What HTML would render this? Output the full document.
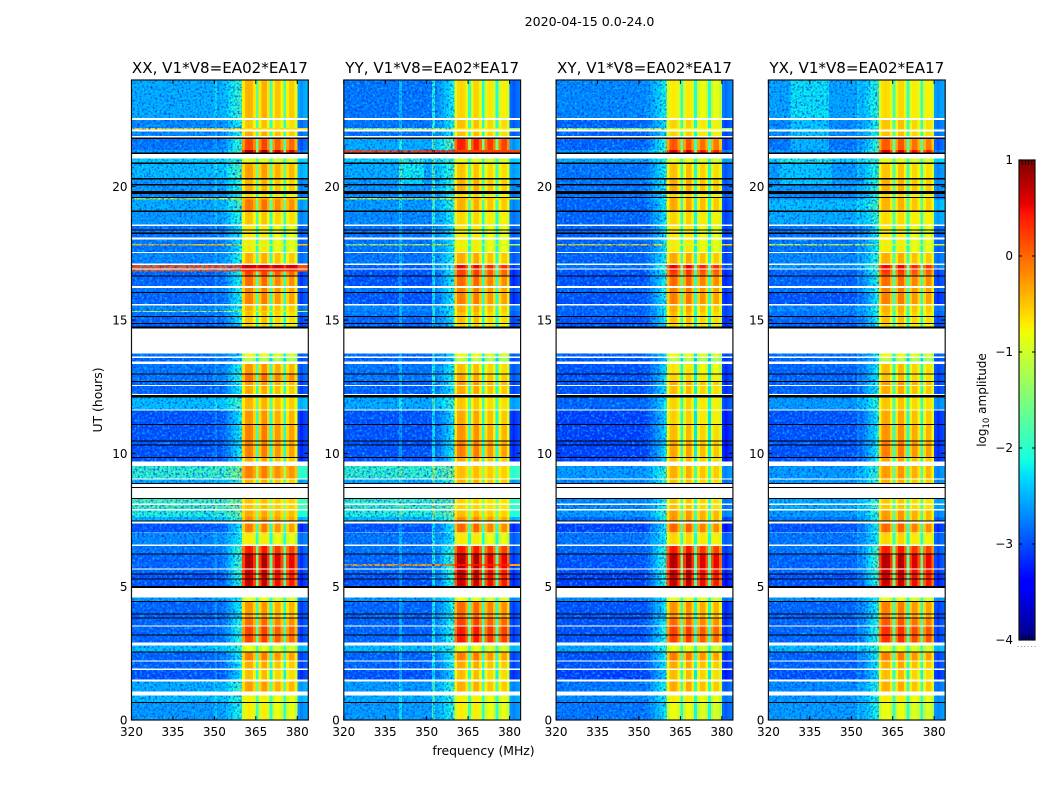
<!DOCTYPE html>
<html>
<head>
<meta charset="utf-8">
<title>2020-04-15 0.0-24.0</title>
<style>
html,body{margin:0;padding:0;background:#fff;}
svg{display:block;}
text{font-family:"DejaVu Sans","Liberation Sans",sans-serif;fill:#000;}
</style>
</head>
<body>
<svg id="chart" xmlns="http://www.w3.org/2000/svg" width="1050" height="800" viewBox="0 0 1050 800">
  <defs>
    <filter id="speckle-dark" x="0" y="0" width="100%" height="100%" color-interpolation-filters="sRGB">
      <feTurbulence type="fractalNoise" baseFrequency="0.45" numOctaves="2" seed="4"/>
      <feColorMatrix type="matrix" values="0 0 0 0 0  0 0 0 0 0.15  0 0 0 0 0.95  2.6 0 0 0 -1.2"/>
    </filter>
    <filter id="speckle-light" x="0" y="0" width="100%" height="100%" color-interpolation-filters="sRGB">
      <feTurbulence type="fractalNoise" baseFrequency="0.4" numOctaves="2" seed="11"/>
      <feColorMatrix type="matrix" values="0 0 0 0 0  0 0 0 0 0.8  0 0 0 0 1  0 2.4 0 0 -1.15"/>
    </filter>
  </defs>
  <text x="589.5" y="26" font-size="12.6" text-anchor="middle">2020-04-15 0.0-24.0</text>
  <g id="panels"></g>
  <text x="483.5" y="755" font-size="12.4" text-anchor="middle">frequency (MHz)</text>
  <text transform="translate(102,400) rotate(-90)" font-size="12.4" text-anchor="middle">UT (hours)</text>
  <g id="colorbar"></g>
  <text transform="translate(986,400) rotate(-90)" font-size="12" text-anchor="middle">log<tspan dy="3" font-size="8.5">10</tspan><tspan dy="-3"> amplitude</tspan></text>
</svg>
<script>
// Panel titles
const panelTitles = ["XX, V1*V8=EA02*EA17", "YY, V1*V8=EA02*EA17", "XY, V1*V8=EA02*EA17", "YX, V1*V8=EA02*EA17"];
// Axis ticks
const utTicks = [0, 5, 10, 15, 20];
const freqTicks = [320, 335, 350, 365, 380];
const colorbarTicks = [1, 0, -1, -2, -3, -4];
const colorbarMinor = [0.2, 0.4, 0.6, 0.8];
// Data rows: start and end, in 135 s integration samples from 0 UT (top of plot = 640)
const rowStart = [640,600,592,588.5,581,570,561.5,556,540.5,534.5,526,522,
520.5,508,494,489.5,486,480.5,476,474.5,467,455,450.5,448.5,
443.5,432,427,414.5,409,408,403,396,366.5,362,356,345.5,
338,334,322.5,309.5,295,278.5,274.5,262,254,240.5,221,215,
209.5,203,196.5,187,174,165.5,156,154,150.5,145.5,140.5,122.5,
118,105.5,101.5,93.5,84.5,74.5,67.5,58.5,50,38.5,24.5,17];
const rowEnd = [602,592,590.5,584,570,567.5,557.5,542,536,529,523,520.5,
509.5,495.5,490.5,487.5,482.5,476,474.5,468,456.5,451.5,448.5,444.5,
434,428,416,409,408,404,397,393.5,363.5,358.5,346.5,339,
335,326,310.5,296,279.5,275.5,263,258.5,241.5,237,216.5,211,
203,199.5,188,175.5,166.5,156,154,151.5,146.5,141.5,134,119,
106.5,102.5,94.5,85.5,77.5,68.5,59.5,51.5,40.5,28.5,18,0];
// Flagged (white) sample ranges
const flaggedStart = [602,590.5,584,566,495.5,482.5,468,456.5,451.5,434,416,391.5,363.5,358.5,335,326,310.5,258.5,241.5,236,232,216.5,211,198.5,175.5,151.5,132,94.5,77.5,59.5,51.5,40.5,28.5];
const flaggedEnd = [600,588.5,582.5,561.5,494,480.5,467,455,450.5,432,414.5,366.5,362,356,334,325,309.5,254,240.5,233,222,215,209.5,196.5,174,150.5,122.5,93.5,74.5,58.5,50,38.5,24.5];
// Zero-amplitude (black) sample ranges
const zeroStart = [582.5,567.5,557.5,542,536,529,523,509.5,490.5,487.5,444.5,428,404,397,393.5,346.5,339,325,296,279.5,275.5,263,237,233,222,199.5,166.5,146.5,141.5,134,119,106.5,102.5,85.5,68.5,18];
const zeroEnd = [581,566,556,540.5,534.5,526,522,508,489.5,486,443.5,427,403,396,391.5,345.5,338,322.5,295,278.5,274.5,262,236,232,221,198.5,165.5,145.5,140.5,132,118,105.5,101.5,84.5,67.5,17];
// Off-band log amplitude per data row
const xxOff = [-2.5,-2.7,-.6,-2.7,-2.8,-2.6,-2.3,-2.4,-2.6,-2.6,-2.7,-1,
-2.5,-2.6,-2.8,-2.8,-2.8,-2.8,-.5,-2.8,-2.7,.15,.1,-2.9,
-2.9,-2.8,-2.9,-2.7,-1,-2.8,-2.9,-2.9,-2.8,-2.9,-2.8,-2.8,
-2.9,-2.9,-2.4,-3,-3,-3,-3,-3,-1.9,-2.5,-1.8,-1.8,
-2,-2.4,-3,-2.7,-2.8,-2.9,-2.9,-2.9,-2.9,-3,-3,-2.6,
-2.9,-2.9,-2.9,-2.9,-2.9,-2.4,-2.9,-2.9,-3,-2.5,-2.4,-2.6];
const yyOff = [-2.8,-2.8,-1.3,-2.8,-2.5,.2,-2.3,-2.5,-2.6,-2.6,-2.7,-1.2,
-2.6,-2.7,-2.8,-2.8,-2.8,-2.8,-1.2,-2.8,-2.8,-2.9,-3,-3,
-3,-2.8,-3,-2.7,-2.8,-2.8,-2.9,-2.9,-2.8,-2.9,-2.8,-2.8,
-2.9,-2.9,-2.5,-3,-3,-3,-3,-3,-1.9,-2.5,-1.9,-1.9,
-2,-2.4,-3,-2.8,-2.8,-2.9,-.3,-2.9,-2.9,-3,-3,-2.6,
-2.9,-2.9,-2.9,-2.9,-2.9,-2.4,-2.9,-2.9,-3,-2.6,-2.5,-2.6];
const xyOff = [-2.7,-2.9,-1.2,-2.9,-2.9,-2.6,-2.5,-2.8,-2.8,-2.8,-2.8,-2.8,
-2.9,-2.9,-2.9,-2.9,-2.9,-2.9,-.6,-2.9,-2.9,-2.8,-3,-3,
-3,-2.9,-3,-2.9,-2.9,-2.9,-3,-3,-2.9,-3,-3,-3,
-3,-3,-2.9,-3.1,-3.1,-3.1,-3.1,-3.1,-2.6,-2.7,-2.7,-2.7,
-2.6,-2.9,-3.1,-2.8,-2.9,-3,-3,-3,-3,-3.1,-3.1,-2.7,
-3,-3,-3,-3,-3,-2.5,-3,-3,-3.1,-2.8,-2.7,-2.8];
const yxOff = [-2.55,-2.7,-2.6,-2.7,-2.8,-2.6,-2.3,-2.6,-2.6,-2.6,-2.7,-2.7,
-2.4,-2.5,-2.8,-2.8,-2.8,-2.8,-1,-2.8,-2.7,-2.6,-2.9,-2.9,
-2.9,-2.8,-3,-2.7,-2.8,-2.8,-2.9,-2.9,-2.8,-2.9,-2.9,-2.9,
-2.9,-2.9,-2.6,-3,-3,-3,-3,-3,-2.6,-2.6,-2.5,-2.5,
-2.6,-2.8,-3,-2.8,-2.8,-2.9,-2.9,-2.9,-2.9,-3,-3,-2.6,
-2.9,-2.9,-2.9,-2.9,-2.9,-2.4,-2.9,-2.9,-3,-2.7,-2.6,-2.6];
// In-band log amplitude per data row
const xxBand = [-.6,-.7,-.6,-.6,-.1,.5,-1,-.5,-.6,-.6,-.8,-.4,
-.3,-.7,-.9,-.9,-.9,-.9,-1,-.9,-.6,.6,.3,-.1,
-.3,-.4,-.4,-.6,-.6,-.7,-.7,-.8,-1,-1.3,-.5,-.3,
-.5,-.6,-.6,-.5,-.4,-.4,-.4,-.6,-.3,-.6,-.6,-.6,
-.5,-.4,-.4,-.9,.1,.4,.4,.4,.3,.3,.3,-1,
-.5,-.5,-.3,-.1,-.1,-1,-.4,-.6,-.7,-.5,-.9,-.9];
const yyBand = [-.8,-.7,-.7,-.7,.1,.2,-1,-.7,-.6,-.6,-.8,-.5,
-.6,-.8,-.9,-.9,-.9,-.9,-1,-.9,-.6,.2,-.1,-.1,
-.3,-.4,-.4,-.6,-.6,-.7,-.7,-.8,-1,-1.3,-.7,-.6,
-.5,-.6,-.7,-.6,-.5,-.4,-.4,-.6,-.6,-.6,-.7,-.7,
-.6,-.4,-.3,-.9,.1,.4,.4,.4,.3,.3,.3,-1,
-.3,-.3,-.1,.1,.1,-1,-.4,-.6,-.7,-.6,-.9,-.9];
const xyBand = [-.9,-.8,-.8,-.8,-.2,.3,-1,-.7,-.6,-.6,-.8,-.6,
-.6,-.8,-.9,-.9,-.9,-.9,-1,-.9,-.6,.2,0,-.1,
-.3,-.4,-.4,-.6,-.6,-.7,-.7,-.8,-1,-1.3,-.9,-.8,
-.6,-.7,-.8,-.8,-.7,-.6,-.6,-.7,-.6,-.7,-.7,-.7,
-.5,-.5,-.3,-.8,.1,.4,.4,.4,.3,.3,.3,-1,
-.5,-.5,-.3,-.1,-.1,-1,-.4,-.6,-.7,-.6,-.9,-1];
const yxBand = [-.8,-.7,-.7,-.7,-.2,.3,-1,-.7,-.6,-.6,-.8,-.6,
-.6,-.8,-.9,-.9,-.9,-.9,-1,-.9,-.6,.2,0,-.1,
-.3,-.4,-.4,-.6,-.6,-.7,-.7,-.8,-1,-1.3,-.7,-.7,
-.5,-.6,-.7,-.6,-.5,-.4,-.4,-.6,-.5,-.6,-.7,-.7,
-.5,-.5,-.3,-.8,.1,.4,.4,.4,.3,.3,.3,-1,
-.4,-.4,-.2,0,0,-1,-.4,-.6,-.7,-.6,-.9,-1];
// Per-MHz bandpass weight (320..383 MHz): 0 = off-band level, 1 = in-band level
const bandpass = [0,0,0,0,0,0,0,0,0,0,0,0,0,0,0,0,
0,0,0,0,0,0,0,0,0,0,0,0,0,0,0,0,
.03,.05,.1,.15,.2,.25,.3,.36,
.94,1.1,1.12,1.1,.96,.42,
.96,1.12,1.12,.96,.36,
.94,1.06,1.06,.92,.36,
.92,1.04,1.04,.88,
-.03,-.08,-.03,0];
// Narrow-band interference channels: panel index, MHz, added log amplitude
const spikePanel = [1, 1, 0, 3];
const spikeFreq = [340, 352, 350, 352];
const spikeBoost = [.4, .7, .25, .2];
// Broad off-band patches: panel index, MHz range, sample range, added log amplitude
const patchPanel = [3, 3, 1];
const patchFreqLow = [328, 324, 340];
const patchFreqHigh = [341, 342, 348];
const patchSampleLow = [570, 540, 540];
const patchSampleHigh = [635, 560, 560];
const patchBoost = [.35, .25, .35];

const SVG_NS = "http://www.w3.org/2000/svg";
const PANEL_W = 176.8, PLOT_TOP = 80, PLOT_BOTTOM = 720;
const panelLefts = [131.5, 343.8, 556.1, 768.4];
const panelOff = [xxOff, yyOff, xyOff, yxOff];
const panelBand = [xxBand, yyBand, xyBand, yxBand];
const sampleHours = 0.0375;

function xScale(mhz, left) { return left + (mhz - 320) * PANEL_W / 64; }
function yScale(ut) { return PLOT_BOTTOM - ut * (PLOT_BOTTOM - PLOT_TOP) / 24; }
function lerp(t, pts) {
  for (let i = 1; i < pts.length; i++) {
    if (t <= pts[i][0]) {
      return pts[i-1][1] + (pts[i][1] - pts[i-1][1]) * (t - pts[i-1][0]) / (pts[i][0] - pts[i-1][0]);
    }
  }
  return pts[pts.length-1][1];
}
function jet(v) {
  const t = Math.max(0, Math.min(1, (v + 4) / 5));
  const r = lerp(t, [[0,0],[.35,0],[.66,1],[.89,1],[1,.5]]);
  const g = lerp(t, [[0,0],[.125,0],[.375,1],[.64,1],[.91,0],[1,0]]);
  const b = lerp(t, [[0,.5],[.11,1],[.34,1],[.65,0],[1,0]]);
  return "rgb(" + Math.round(r*255) + "," + Math.round(g*255) + "," + Math.round(b*255) + ")";
}
function make(tag, parent) {
  const e = document.createElementNS(SVG_NS, tag);
  parent.appendChild(e);
  return e;
}

const panelsRoot = document.getElementById("panels");
panelTitles.forEach(function (title, p) {
  const left = panelLefts[p];
  const g = make("g", panelsRoot);
  
  
  g.setAttribute("shape-rendering", "crispEdges");

  const cells = make("g", g);
  
  

  rowStart.forEach(function (s0, r) {
    const y0 = yScale(s0 * sampleHours);
    const y1 = yScale(rowEnd[r] * sampleHours);
    const off = panelOff[p][r];
    const band = panelBand[p][r];
    bandpass.forEach(function (w, c) {
      let v = off + (band - off) * w;
      spikeFreq.forEach(function (f, s) {
        if (spikePanel[s] === p && f === 320 + c) v += spikeBoost[s];
      });
      patchPanel.forEach(function (pp, s) {
        if (pp === p && off < -2 && 320 + c >= patchFreqLow[s] && 320 + c <= patchFreqHigh[s] && s0 > patchSampleLow[s] && s0 <= patchSampleHigh[s] + 5) v += patchBoost[s];
      });
      const cell = make("rect", cells);
      
      
      cell.setAttribute("x", xScale(320 + c, left));
      cell.setAttribute("y", y0);
      cell.setAttribute("width", PANEL_W / 64 + 0.4);
      cell.setAttribute("height", y1 - y0 + 0.4);
      cell.setAttribute("fill", jet(v));
    });
  });

  const speckDark = make("rect", g);
  
  
  speckDark.setAttribute("x", left);
  speckDark.setAttribute("y", PLOT_TOP);
  speckDark.setAttribute("width", xScale(360, left) - left);
  speckDark.setAttribute("height", PLOT_BOTTOM - PLOT_TOP);
  speckDark.setAttribute("filter", "url(#speckle-dark)");
  const speckLight = make("rect", g);
  
  
  speckLight.setAttribute("x", left);
  speckLight.setAttribute("y", PLOT_TOP);
  speckLight.setAttribute("width", xScale(360, left) - left);
  speckLight.setAttribute("height", PLOT_BOTTOM - PLOT_TOP);
  speckLight.setAttribute("filter", "url(#speckle-light)");

  flaggedStart.forEach(function (s0, i) {
    const y0 = yScale(s0 * sampleHours);
    const y1 = yScale(flaggedEnd[i] * sampleHours);
    const gap = make("rect", g);
    
    
    gap.setAttribute("x", left);
    gap.setAttribute("y", y0);
    gap.setAttribute("width", PANEL_W);
    gap.setAttribute("height", y1 - y0);
    gap.setAttribute("fill", "#fff");
  });
  zeroStart.forEach(function (s0, i) {
    const y0 = yScale(s0 * sampleHours);
    const y1 = yScale(zeroEnd[i] * sampleHours);
    const gap = make("rect", g);
    
    
    gap.setAttribute("x", left);
    gap.setAttribute("y", y0);
    gap.setAttribute("width", PANEL_W);
    gap.setAttribute("height", y1 - y0);
    gap.setAttribute("fill", "#000");
  });

  const frame = make("rect", panelsRoot);
  
  
  frame.setAttribute("x", left);
  frame.setAttribute("y", PLOT_TOP);
  frame.setAttribute("width", PANEL_W);
  frame.setAttribute("height", PLOT_BOTTOM - PLOT_TOP);
  frame.setAttribute("fill", "none");
  frame.setAttribute("stroke", "#111");
  frame.setAttribute("stroke-width", "1.2");

  const heading = make("text", panelsRoot);
  
  
  heading.setAttribute("x", left + PANEL_W / 2);
  heading.setAttribute("y", 73);
  heading.setAttribute("font-size", "15.1");
  heading.setAttribute("text-anchor", "middle");
  heading.textContent = title;

  utTicks.forEach(function (ut) {
    const y = yScale(ut);
    [[left, left + 4], [left + PANEL_W, left + PANEL_W - 4]].forEach(function (xs) {
      const tick = make("line", panelsRoot);
      
      
      tick.setAttribute("x1", xs[0]);
      tick.setAttribute("x2", xs[1]);
      tick.setAttribute("y1", y);
      tick.setAttribute("y2", y);
      tick.setAttribute("stroke", "#000");
    });
    const label = make("text", panelsRoot);
    
    
    label.setAttribute("x", left - 4);
    label.setAttribute("y", y + 4.5);
    label.setAttribute("font-size", "12");
    label.setAttribute("text-anchor", "end");
    label.textContent = ut;
  });

  freqTicks.forEach(function (f) {
    const x = xScale(f, left);
    [[PLOT_BOTTOM, PLOT_BOTTOM - 4], [PLOT_TOP, PLOT_TOP + 4]].forEach(function (ys) {
      const tick = make("line", panelsRoot);
      
      
      tick.setAttribute("x1", x);
      tick.setAttribute("x2", x);
      tick.setAttribute("y1", ys[0]);
      tick.setAttribute("y2", ys[1]);
      tick.setAttribute("stroke", "#000");
    });
    const label = make("text", panelsRoot);
    
    
    label.setAttribute("x", x);
    label.setAttribute("y", 736);
    label.setAttribute("font-size", "12");
    label.setAttribute("text-anchor", "middle");
    label.textContent = f;
  });
});

// Colorbar
const CB_LEFT = 1019, CB_W = 16, CB_TOP = 160, CB_BOTTOM = 640;
function cbScale(v) { return CB_BOTTOM - (v + 4) * (CB_BOTTOM - CB_TOP) / 5; }
const cbRoot = document.getElementById("colorbar");
const cbSteps = 240;
for (let i = 0; i < cbSteps; i++) {
  const v0 = -4 + 5 * i / cbSteps;
  const v1 = -4 + 5 * (i + 1) / cbSteps;
  const seg = make("rect", cbRoot);
  
  
  seg.setAttribute("x", CB_LEFT);
  seg.setAttribute("y", cbScale(v1));
  seg.setAttribute("width", CB_W);
  seg.setAttribute("height", cbScale(v0) - cbScale(v1) + 0.5);
  seg.setAttribute("fill", jet((v0 + v1) / 2));
  seg.setAttribute("shape-rendering", "crispEdges");
}
const cbFrame = make("rect", cbRoot);


cbFrame.setAttribute("x", CB_LEFT);
cbFrame.setAttribute("y", CB_TOP);
cbFrame.setAttribute("width", CB_W);
cbFrame.setAttribute("height", CB_BOTTOM - CB_TOP);
cbFrame.setAttribute("fill", "none");
cbFrame.setAttribute("stroke", "#111");
cbFrame.setAttribute("stroke-width", "1.2");
colorbarMinor.forEach(function (frac) {
  [[CB_TOP, CB_TOP + 5], [CB_BOTTOM, CB_BOTTOM - 5]].forEach(function (ys) {
    const tick = make("line", cbRoot);
    
    
    tick.setAttribute("x1", CB_LEFT + frac * CB_W);
    tick.setAttribute("x2", CB_LEFT + frac * CB_W);
    tick.setAttribute("y1", ys[0]);
    tick.setAttribute("y2", ys[1]);
    tick.setAttribute("stroke", "#000");
    tick.setAttribute("stroke-width", "0.8");
  });
});
const dotFractions = [0, 0.2, 0.4, 0.6, 0.8, 1];
dotFractions.forEach(function (frac) {
  const dot = make("rect", cbRoot);
  
  
  dot.setAttribute("x", CB_LEFT - 1.5 + frac * (CB_W + 1));
  dot.setAttribute("y", 646);
  dot.setAttribute("width", 1);
  dot.setAttribute("height", 1);
  dot.setAttribute("fill", "#888");
});
colorbarTicks.forEach(function (v) {
  const y = cbScale(v);
  [[CB_LEFT, CB_LEFT + 3], [CB_LEFT + CB_W, CB_LEFT + CB_W - 3]].forEach(function (xs) {
    const tick = make("line", cbRoot);
    
    
    tick.setAttribute("x1", xs[0]);
    tick.setAttribute("x2", xs[1]);
    tick.setAttribute("y1", y);
    tick.setAttribute("y2", y);
    tick.setAttribute("stroke", "#000");
  });
  const label = make("text", cbRoot);
  
  
  label.setAttribute("x", CB_LEFT - 6);
  label.setAttribute("y", y + 4);
  label.setAttribute("font-size", "12");
  label.setAttribute("text-anchor", "end");
  label.textContent = v < 0 ? "\u2212" + Math.abs(v) : String(v);
});
</script>
</body>
</html>
